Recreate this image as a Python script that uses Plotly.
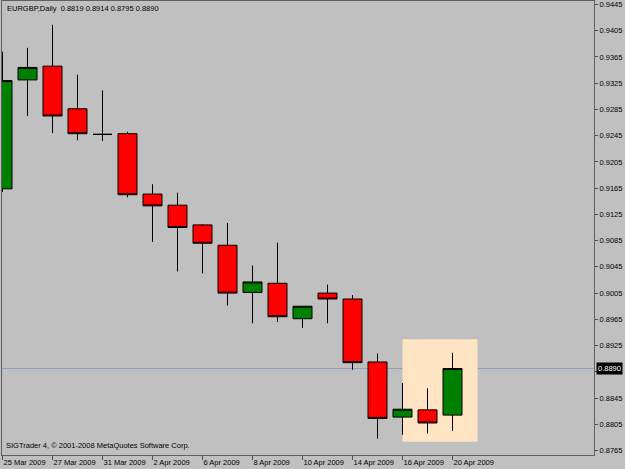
import plotly.graph_objects as go

# ---- data ----
dates = ["25 Mar", "26 Mar", "27 Mar", "30 Mar", "31 Mar", "1 Apr", "2 Apr", "3 Apr",
         "6 Apr", "7 Apr", "8 Apr", "9 Apr", "10 Apr", "13 Apr", "14 Apr", "15 Apr",
         "16 Apr", "17 Apr", "20 Apr"]
open_ = [0.9164, 0.9330, 0.9351, 0.9286, 0.9247, 0.9248, 0.9156, 0.9139, 0.9109, 0.9078,
         0.9006, 0.9020, 0.8966, 0.9005, 0.8996, 0.8900, 0.8816, 0.8827, 0.8819]
high = [0.9373, 0.9379, 0.9414, 0.9338, 0.9314, 0.9251, 0.9171, 0.9158, 0.9110, 0.9112,
        0.9047, 0.9082, 0.8985, 0.9018, 0.9002, 0.8913, 0.8868, 0.8860, 0.8914]
low = [0.9159, 0.9275, 0.9249, 0.9238, 0.9237, 0.9151, 0.9083, 0.9038, 0.9035, 0.8986,
       0.8959, 0.8961, 0.8952, 0.8959, 0.8888, 0.8783, 0.8789, 0.8791, 0.8795]
close = [0.9329, 0.9349, 0.9275, 0.9248, 0.9247, 0.9155, 0.9138, 0.9105, 0.9081, 0.9005,
         0.9022, 0.8969, 0.8985, 0.8996, 0.8899, 0.8814, 0.8828, 0.8807, 0.8890]

xtick_idx = [0, 2, 4, 6, 8, 10, 12, 14, 16, 18]
xtick_text = ["25 Mar 2009", "27 Mar 2009", "31 Mar 2009", "2 Apr 2009", "6 Apr 2009",
              "8 Apr 2009", "10 Apr 2009", "14 Apr 2009", "16 Apr 2009", "20 Apr 2009"]
ytick_vals = [0.8765, 0.8805, 0.8845, 0.8885, 0.8925, 0.8965, 0.9005, 0.9045, 0.9085,
              0.9125, 0.9165, 0.9205, 0.9245, 0.9285, 0.9325, 0.9365, 0.9405, 0.9445]
ytick_text = ["0.8765", "0.8805", "0.8845", "", "0.8925", "0.8965", "0.9005", "0.9045",
              "0.9085", "0.9125", "0.9165", "0.9205", "0.9245", "0.9285", "0.9325",
              "0.9365", "0.9405", "0.9445"]
last_price = 0.8890
highlight_x = [16, 19]
highlight_y = [0.87783, 0.89346]
title_text = "EURGBP,Daily  0.8819 0.8914 0.8795 0.8890"
copyright_text = "SIGTrader 4, \u00a9 2001-2008 MetaQuotes Software Corp."

BG = "#C0C0C0"
FONT = "Liberation Sans"

x = list(range(len(dates)))

fig = go.Figure()
fig.add_trace(go.Candlestick(
    x=x, open=open_, high=high, low=low, close=close,
    increasing=dict(fillcolor="#008000", line=dict(color="#000000", width=1)),
    decreasing=dict(fillcolor="#FF0000", line=dict(color="#000000", width=1)),
    whiskerwidth=0, showlegend=False, hoverinfo="skip",
))

fig.add_shape(type="rect", xref="x", yref="y",
              x0=highlight_x[0], x1=highlight_x[1], y0=highlight_y[0], y1=highlight_y[1],
              fillcolor="#FFE4C4", line=dict(width=0), layer="below")
fig.add_shape(type="line", xref="paper", yref="y", x0=0, x1=1, y0=last_price, y1=last_price,
              line=dict(color="#8FA0B8", width=1), layer="below")

fig.add_annotation(xref="paper", yref="paper", x=0, y=1, xanchor="left", yanchor="top",
                   xshift=3, yshift=-1, text=title_text, showarrow=False,
                   font=dict(family=FONT, size=7.5, color="#000000"))
fig.add_annotation(xref="paper", yref="paper", x=0, y=0, xanchor="left", yanchor="bottom",
                   xshift=2, yshift=3, text=copyright_text, showarrow=False,
                   font=dict(family=FONT, size=7.5, color="#000000"))
fig.add_annotation(xref="paper", yref="y", x=1, y=last_price, xanchor="left", yanchor="middle",
                   xshift=2, text="0.8890", showarrow=False, bgcolor="#000000",
                   borderpad=1, font=dict(family=FONT, size=7.5, color="#FFFFFF"))

fig.update_layout(
    width=625, height=469,
    margin=dict(l=2, r=31, t=1, b=14, autoexpand=False),
    paper_bgcolor=BG, plot_bgcolor=BG,
    boxgap=0.24, boxgroupgap=0,
    font=dict(family=FONT, size=7.5, color="#000000"),
    xaxis=dict(range=[-0.02, 23.66], tickmode="array", tickvals=xtick_idx, ticktext=xtick_text,
               tickangle=0, automargin=False,
               ticks="outside", ticklen=4, tickcolor="#505050", ticklabelposition="outside right",
               showgrid=False, zeroline=False, showline=True, linecolor="#606060", mirror=True,
               rangeslider=dict(visible=False), fixedrange=True),
    yaxis=dict(range=[0.87582, 0.94503], side="right", tickmode="array", tickvals=ytick_vals,
               ticktext=ytick_text, ticks="outside", ticklen=3, tickcolor="#505050",
               automargin=False,
               showgrid=False, zeroline=False, showline=True, linecolor="#606060", mirror=True),
)

fig.write_html("out.html")
